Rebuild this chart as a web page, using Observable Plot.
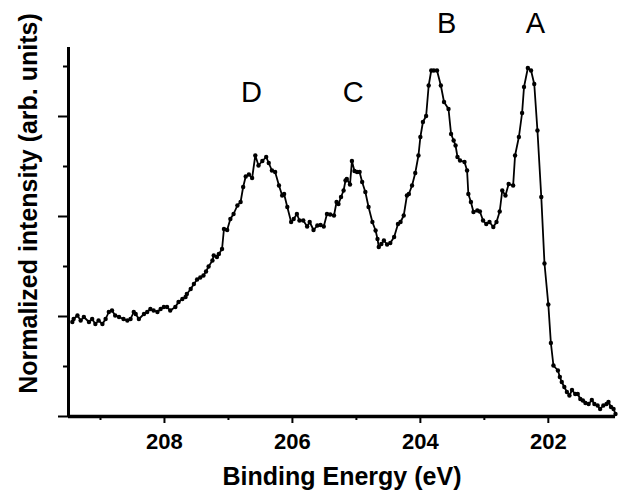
<!DOCTYPE html>
<html>
<head>
<meta charset="utf-8">
<script src="https://cdn.jsdelivr.net/npm/d3@7"></script>
<script src="https://cdn.jsdelivr.net/npm/@observablehq/plot@0.6"></script>
<style>
  html, body { margin: 0; padding: 0; background: #fff; }
</style>
</head>
<body>
<div id="chart"></div>
<script>
const energy = [
  209.44,209.42,209.36,209.31,209.26,209.18,209.13,209.08,209.03,208.97,
  208.92,208.87,208.82,208.77,208.71,208.64,208.58,208.53,208.48,208.45,
  208.40,208.32,208.27,208.22,208.17,208.11,208.06,208.01,207.96,207.91,
  207.83,207.78,207.72,207.67,207.65,207.59,207.54,207.49,207.44,207.39,
  207.35,207.31,207.25,207.23,207.18,207.15,207.10,207.07,207.02,206.97,
  206.92,206.86,206.81,206.77,206.73,206.68,206.63,206.58,206.53,206.47,
  206.41,206.37,206.32,206.27,206.21,206.16,206.13,206.08,206.02,205.98,
  205.93,205.89,205.83,205.77,205.73,205.67,205.61,205.56,205.51,205.46,
  205.41,205.35,205.31,205.28,205.24,205.20,205.17,205.15,205.10,205.07,
  205.03,204.99,204.95,204.91,204.86,204.81,204.75,204.70,204.67,204.65,
  204.61,204.57,204.52,204.47,204.41,204.35,204.31,204.26,204.21,204.18,
  204.13,204.08,204.03,204.00,203.96,203.91,203.87,203.83,203.79,203.74,
  203.68,203.63,203.56,203.52,203.48,203.45,203.42,203.38,203.31,203.27,
  203.25,203.21,203.17,203.11,203.07,203.02,202.97,202.92,202.86,202.81,
  202.76,202.72,202.67,202.62,202.55,202.52,202.46,202.41,202.38,202.32,
  202.27,202.22,202.17,202.11,202.06,202.00,201.96,201.92,201.85,201.82,
  201.79,201.75,201.71,201.67,201.63,201.58,201.54,201.50,201.46,201.42,
  201.37,201.32,201.28,201.23,201.19,201.14,201.09,201.06,201.02,200.98,200.95
];
const intensity = [
  1.89,1.95,2.02,1.92,1.99,1.89,1.95,1.85,1.92,1.85,
  1.95,2.09,2.12,2.02,1.99,1.95,1.92,1.95,2.09,2.05,
  1.95,2.05,2.09,2.15,2.12,2.09,2.15,2.19,2.19,2.12,
  2.19,2.29,2.35,2.39,2.45,2.55,2.65,2.74,2.78,2.82,
  2.90,3.00,3.12,3.22,3.19,3.25,3.35,3.75,3.73,3.95,
  4.05,4.22,4.29,4.59,4.80,4.84,4.77,5.22,5.02,5.11,
  5.19,5.07,4.92,4.89,4.62,4.42,4.45,4.19,3.89,3.95,
  4.05,3.92,3.92,3.80,3.89,3.73,3.82,3.83,3.80,4.05,
  4.04,4.02,4.29,4.25,4.39,4.52,4.72,4.75,4.64,5.11,
  4.91,4.89,4.89,4.69,4.49,4.19,3.89,3.72,3.55,3.39,
  3.45,3.52,3.44,3.47,3.59,3.85,3.89,4.02,4.42,4.45,
  4.62,4.87,5.22,5.59,5.89,6.01,6.62,6.92,6.92,6.92,
  6.62,6.29,6.15,5.65,5.52,5.42,5.19,5.12,5.09,4.92,
  4.45,4.29,4.09,4.12,4.10,3.92,3.85,3.89,3.79,3.89,
  4.10,4.52,4.42,4.65,4.62,5.22,5.59,6.07,6.59,6.97,
  6.92,6.65,5.72,4.39,3.06,2.24,1.47,1.02,0.92,0.79,
  0.69,0.59,0.49,0.42,0.53,0.45,0.45,0.35,0.32,0.27,
  0.25,0.33,0.25,0.22,0.15,0.22,0.25,0.29,0.19,0.15,0.05
];

const peakNames = ["A", "B", "C", "D"];
const peakEnergy = [202.20, 203.59, 205.05, 206.64];
const peakLevel = [7.86, 7.86, 6.48, 6.48];

const xMajorTicks = [208, 206, 204, 202];
const xMinorTicks = [209, 207, 205, 203];
const yMajorTicks = [0, 2, 4, 6];
const yMinorTicks = [1, 3, 5, 7];

const xTitle = "Binding Energy (eV)";
const yTitle = "Normalized intensity (arb. units)";

const data = energy.map((e, i) => ({e, v: intensity[i]}));
const peaks = peakNames.map((n, i) => ({n, e: peakEnergy[i], v: peakLevel[i]}));

const font = "'Liberation Sans', Arial, Helvetica, sans-serif";

const chart = Plot.plot({
  width: 618,
  height: 491,
  marginLeft: 68,
  marginRight: 3,
  marginTop: 47,
  marginBottom: 75,
  style: {fontFamily: font, background: "#fff", color: "#000"},
  x: {domain: [209.5, 200.95]},
  y: {domain: [0, 7.38]},
  marks: [
    Plot.axisX({ticks: xMajorTicks, tickSize: 7, tickPadding: 10, strokeWidth: 2,
      tickFormat: d => String(d), fontSize: 22, fontWeight: "bold", label: null}),
    Plot.axisX({ticks: xMinorTicks, tickSize: 4, strokeWidth: 2, tickFormat: () => "", label: null}),
    Plot.axisY({ticks: yMajorTicks, tickSize: 10, strokeWidth: 2, tickFormat: () => "", label: null}),
    Plot.axisY({ticks: yMinorTicks, tickSize: 5, strokeWidth: 2, tickFormat: () => "", label: null}),
    Plot.ruleY([0], {strokeWidth: 3.5, stroke: "#000"}),
    Plot.ruleX([209.5], {strokeWidth: 3, stroke: "#000"}),
    Plot.line(data, {x: "e", y: "v", stroke: "#000", strokeWidth: 1.8}),
    Plot.dot(data, {x: "e", y: "v", r: 2.2, fill: "#000", stroke: null}),
    Plot.text(peaks, {x: "e", y: "v", text: "n", fontSize: 29, fill: "#000", lineAnchor: "middle"}),
    Plot.text([xTitle], {frameAnchor: "bottom", dy: 60.5, lineAnchor: "middle", textAnchor: "middle",
      fontSize: 25, fontWeight: "bold", fill: "#000"}),
    Plot.text([yTitle], {frameAnchor: "left", dx: -39.5, dy: -28.5, rotate: -90,
      lineAnchor: "middle", textAnchor: "middle",
      fontSize: 25, fontWeight: "bold", fill: "#000"})
  ]
});
document.getElementById("chart").appendChild(chart);
</script>
</body>
</html>
